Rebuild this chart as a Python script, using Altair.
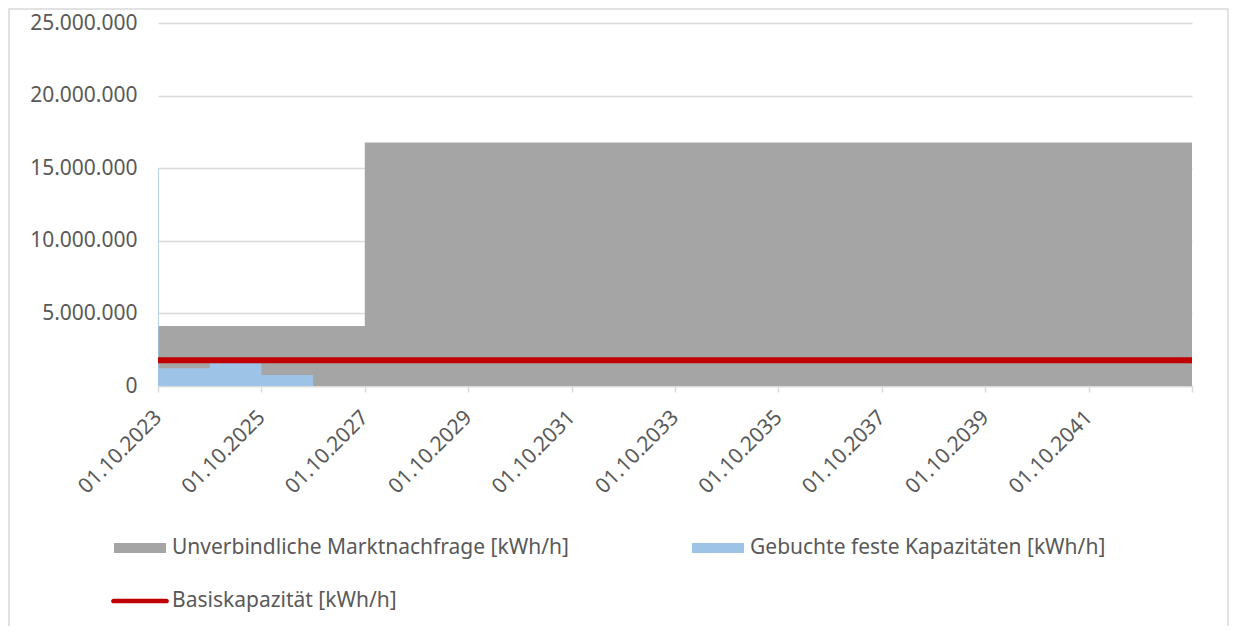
import altair as alt
import pandas as pd

# ---- data ----
S_GREY = "Unverbindliche Marktnachfrage [kWh/h]"
S_BLUE = "Gebuchte feste Kapazitäten [kWh/h]"
S_RED = "Basiskapazität [kWh/h]"

demand_dates = ["2023-10-01", "2027-10-01", "2043-10-01"]
demand_values = [4130000, 16770000, 16770000]

booked_dates = ["2023-10-01", "2023-10-06", "2024-10-01", "2025-10-01", "2026-10-01"]
booked_values = [15000000, 1220000, 1600000, 760000, 0]

base_dates = ["2023-10-01", "2043-10-01"]
base_values = [1770000, 1770000]

tick_years = [2023, 2025, 2027, 2029, 2031, 2033, 2035, 2037, 2039, 2041, 2043]
y_ticks = [0, 5000000, 10000000, 15000000, 20000000, 25000000]

# legend order (filled column by column: grey, red | blue)
series_names = [S_GREY, S_RED, S_BLUE]
series_colors = ["#A5A5A5", "#C00000", "#9DC3E6"]
series_shapes = [
    "M-1,-0.19H1V0.19H-1Z",
    "M-1.02,-0.09H1.02A0.09,0.09 0 0 1 1.02,0.09H-1.02A0.09,0.09 0 0 1 -1.02,-0.09Z",
    "M-1,-0.19H1V0.19H-1Z",
]

demand = pd.DataFrame({"date": demand_dates, "value": demand_values})
booked = pd.DataFrame({"date": booked_dates, "value": booked_values})
base = pd.DataFrame({"date": base_dates, "value": base_values})
legend_df = pd.DataFrame({"series": series_names})
frame_df = pd.DataFrame({"k": [0]})

FONT = "Noto Sans"
TXT = "#595959"
GRID = "#D9D9D9"

x_scale = alt.Scale(
    type="utc",
    domain=[alt.DateTime(year=2023, month=10, date=1, utc=True),
            alt.DateTime(year=2043, month=10, date=1, utc=True)],
)
x_axis = alt.Axis(
    title=None,
    values=[alt.DateTime(year=y, month=10, date=1, utc=True) for y in tick_years],
    format="%d.%m.%Y",
    labelExpr="utcyear(datum.value) == 2043 ? '' : datum.label",
    labelAngle=315,
    labelAlign="right",
    labelBaseline="middle",
    labelPadding=22,
    labelFont=FONT,
    labelFontSize=21,
    labelColor=TXT,
    grid=False,
    domainColor=GRID,
    domainWidth=1.5,
    tickColor=GRID,
    tickSize=6,
    tickWidth=1.5,
    labelOverlap=False,
)
y_scale = alt.Scale(domain=[0, 25000000], nice=False)
y_axis = alt.Axis(
    title=None,
    values=y_ticks,
    labelExpr="join(split(format(datum.value, ',d'), ','), '.')",
    labelFont=FONT,
    labelFontSize=21,
    labelColor=TXT,
    labelPadding=21,
    grid=True,
    gridColor=GRID,
    gridWidth=1.5,
    domain=False,
    ticks=False,
)

X = alt.X("date:T", scale=x_scale, axis=x_axis)
Y = alt.Y("value:Q", scale=y_scale, axis=y_axis)

grey = alt.Chart(demand).mark_area(interpolate="step-after", color="#A5A5A5").encode(x=X, y=Y)
blue = alt.Chart(booked).mark_area(interpolate="step-after", color="#9DC3E6").encode(x=X, y=Y)
red = alt.Chart(base).mark_line(color="#C00000", strokeWidth=6).encode(x=X, y=Y)

leg = alt.Legend(
    title=None,
    orient="none",
    legendX=-45,
    legendY=498,
    columns=2,
    columnPadding=120,
    rowPadding=16,
    symbolSize=2704,
    labelFont=FONT,
    labelFontSize=21,
    labelColor=TXT,
    labelOffset=5,
    labelLimit=600,
    symbolOpacity=1,
)
legend_layer = alt.Chart(legend_df).mark_point(filled=True, opacity=0, size=2704).encode(
    color=alt.Color("series:N", scale=alt.Scale(domain=series_names, range=series_colors), legend=leg, sort=series_names),
    shape=alt.Shape("series:N", scale=alt.Scale(domain=series_names, range=series_shapes), legend=leg, sort=series_names),
)

frame = alt.Chart(frame_df).mark_rect(fill="transparent", stroke=GRID, strokeWidth=1.5).encode(
    x=alt.value(-149), x2=alt.value(1070), y=alt.value(-14), y2=alt.value(700)
)

chart = alt.layer(frame, grey, blue, red, legend_layer).properties(
    width=1034,
    height=363,
    background="white",
    autosize=alt.AutoSizeParams(type="none"),
    padding={"left": 150, "top": 15, "right": 39, "bottom": 240},
).configure_view(stroke=None)

chart.save("out.html", embed_options={"renderer": "svg", "actions": False})
